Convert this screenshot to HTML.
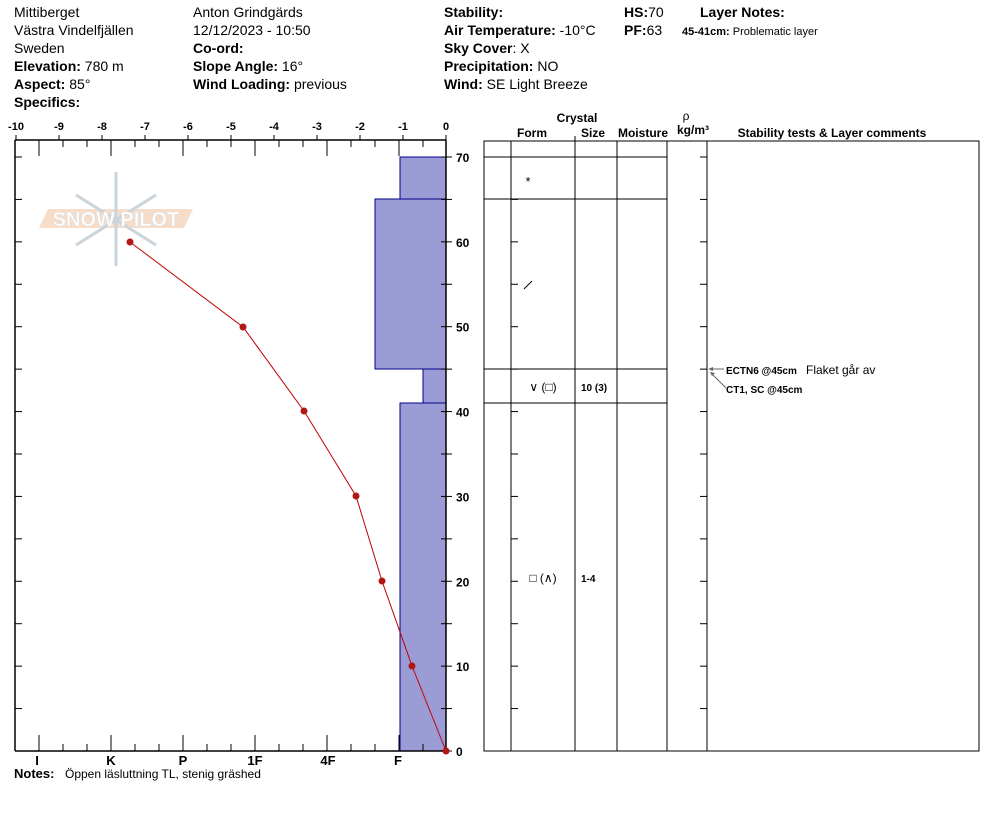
<!DOCTYPE html>
<html><head><meta charset="utf-8"><style>
body{margin:0;background:#fff;}
svg{display:block;font-family:"Liberation Sans",Arial,sans-serif;}
</style></head><body>
<svg id="s" width="994" height="840" viewBox="0 0 994 840" xmlns="http://www.w3.org/2000/svg">
<g font-size="14" fill="#000">
<text x="14" y="17">Mittiberget</text>
<text x="14" y="35">Västra Vindelfjällen</text>
<text x="14" y="53">Sweden</text>
<text x="14" y="71"><tspan font-weight="bold">Elevation:</tspan> 780 m</text>
<text x="14" y="89"><tspan font-weight="bold">Aspect:</tspan> 85°</text>
<text x="14" y="107" font-weight="bold">Specifics:</text>
<text x="193" y="17">Anton Grindgärds</text>
<text x="193" y="35">12/12/2023 - 10:50</text>
<text x="193" y="53" font-weight="bold">Co-ord:</text>
<text x="193" y="71"><tspan font-weight="bold">Slope Angle:</tspan> 16°</text>
<text x="193" y="89"><tspan font-weight="bold">Wind Loading:</tspan> previous</text>
<text x="444" y="17" font-weight="bold">Stability:</text>
<text x="444" y="35"><tspan font-weight="bold">Air Temperature:</tspan> -10°C</text>
<text x="444" y="53"><tspan font-weight="bold">Sky Cover</tspan>: X</text>
<text x="444" y="71"><tspan font-weight="bold">Precipitation:</tspan> NO</text>
<text x="444" y="89"><tspan font-weight="bold">Wind:</tspan>  SE  Light Breeze</text>
<text x="624" y="17"><tspan font-weight="bold">HS:</tspan>70</text>
<text x="624" y="35"><tspan font-weight="bold">PF:</tspan>63</text>
<text x="700" y="17" font-weight="bold">Layer Notes:</text>
<text x="682" y="35" font-size="11"><tspan font-weight="bold">45-41cm:</tspan> Problematic layer</text>
</g>
<!-- watermark -->
<g opacity="0.6">
<polygon points="48,209 193,209 184,228 39,228" fill="#f0c8a8"/>
<g stroke="#a8b8c4" stroke-width="3" fill="none">
<line x1="116" y1="172" x2="116" y2="266"/>
<line x1="76" y1="195" x2="156" y2="245"/>
<line x1="76" y1="245" x2="156" y2="195"/>
</g>
<text x="116" y="226" text-anchor="middle" font-size="20" fill="#fff" stroke="#ccc" stroke-width="0.6" font-weight="bold">SNOW PILOT</text>
</g>
<!-- hardness bars -->
<g fill="#9b9bd6" stroke="#00008b" stroke-width="1">
<rect x="400" y="157" width="46" height="42"/>
<rect x="375" y="199" width="71" height="170"/>
<rect x="423" y="369" width="23" height="34"/>
<rect x="400" y="403" width="46" height="348"/>
</g>
<g id="ax" stroke="#000" stroke-width="1.5" fill="none">
<line x1="15" y1="140" x2="446" y2="140"/>
<line x1="15" y1="751" x2="446" y2="751"/>
<line x1="15" y1="140" x2="15" y2="751"/>
<line x1="446" y1="140" x2="446" y2="751"/>
</g>
<g id="ticks" stroke="#000" stroke-width="1"></g>
<g font-size="11" font-weight="bold" text-anchor="middle" id="tl"></g>
<g font-size="13" font-weight="bold" text-anchor="middle">
<text x="37" y="765">I</text><text x="111" y="765">K</text><text x="183" y="765">P</text><text x="255" y="765">1F</text><text x="328" y="765">4F</text><text x="398" y="765">F</text>
</g>
<text x="14" y="778" font-size="13" font-weight="bold">Notes:</text>
<text x="65" y="778" font-size="12">Öppen läsluttning TL, stenig gräshed</text>
<!-- temperature -->
<polyline points="130,242 243,327 304,411 356,496 382,581 412,666 446,751" fill="none" stroke="#c00000" stroke-width="1"/>
<g fill="#b01818">
<circle cx="130" cy="242" r="3.5"/><circle cx="243" cy="327" r="3.5"/><circle cx="304" cy="411" r="3.5"/><circle cx="356" cy="496" r="3.5"/><circle cx="382" cy="581" r="3.5"/><circle cx="412" cy="666" r="3.5"/><circle cx="446" cy="751" r="3.5"/>
</g>
<!-- right table -->
<g stroke="#000" stroke-width="1" fill="none">
<rect x="484" y="141" width="495" height="610"/>
<line x1="511" y1="141" x2="511" y2="751"/>
<line x1="575" y1="141" x2="575" y2="751"/>
<line x1="617" y1="141" x2="617" y2="751"/>
<line x1="667" y1="141" x2="667" y2="751"/>
<line x1="707" y1="141" x2="707" y2="751"/>
<line x1="484" y1="157" x2="667" y2="157"/>
<line x1="484" y1="199" x2="667" y2="199"/>
<line x1="484" y1="369" x2="667" y2="369"/>
<line x1="484" y1="403" x2="667" y2="403"/>
<line x1="575" y1="136" x2="575" y2="141"/>
</g>
<g font-size="12" font-weight="bold" text-anchor="middle">
<text x="577" y="122">Crystal</text>
<text x="532" y="137">Form</text>
<text x="593" y="137">Size</text>
<text x="643" y="137">Moisture</text>
<text x="686" y="120" font-weight="normal">ρ</text>
<text x="693" y="134">kg/m³</text>
<text x="832" y="137">Stability tests &amp; Layer comments</text>
</g>
<g font-size="13" text-anchor="middle">
<text x="528" y="186">*</text>
<text x="543" y="391" font-size="12">∨ (□)</text>
<text x="543" y="582" font-size="12">□ (∧)</text>
</g>
<line x1="524" y1="289" x2="532" y2="281" stroke="#000" stroke-width="1"/>
<g font-size="10" font-weight="bold">
<text x="581" y="391">10 (3)</text>
<text x="581" y="582">1-4</text>
<text x="726" y="374">ECTN6 @45cm</text>
<text x="726" y="393">CT1, SC @45cm</text>
</g>
<text x="806" y="374" font-size="12">Flaket går av</text>
<g stroke="#666" stroke-width="1">
<line x1="709" y1="369" x2="724" y2="369"/>
<line x1="711" y1="373" x2="726" y2="388"/>
</g>
<path d="M708 369l5-2v4zM710 372l5 1-3 3z" fill="#666"/>
</svg>
<script>
var NS="http://www.w3.org/2000/svg";
var t=document.getElementById('ticks'),tl=document.getElementById('tl');
function L(a,b,c,d){var e=document.createElementNS(NS,'line');e.setAttribute('x1',a);e.setAttribute('y1',b);e.setAttribute('x2',c);e.setAttribute('y2',d);t.appendChild(e);}
function T(x,y,s,g,anchor){var e=document.createElementNS(NS,'text');e.setAttribute('x',x);e.setAttribute('y',y);e.textContent=s;if(anchor)e.setAttribute('text-anchor',anchor);(g||tl).appendChild(e);}
for(var i=0;i<=10;i++){var x=16+43*i;T(x,130,i==10?'0':String(i-10));L(x,135,x,140);}
for(var x=39;x<446;x+=24){var maj=((x-39)%72==0);var h=maj?16:7;L(x,140,x,140+h);L(x,751,x,751-h);}
for(var c=0;c<=70;c+=5){var y=751-c*8.486;var maj=c%10==0;L(15,y,22,y);L(446,y,441,y);L(446,y,452,y);L(511,y,518,y);L(707,y,700,y);
 if(maj){var e=document.createElementNS(NS,'text');e.setAttribute('x',456);e.setAttribute('y',y+5);e.setAttribute('font-size','12');e.setAttribute('font-weight','bold');e.textContent=c;document.getElementById('s').appendChild(e);}}
</script>
</body></html>
